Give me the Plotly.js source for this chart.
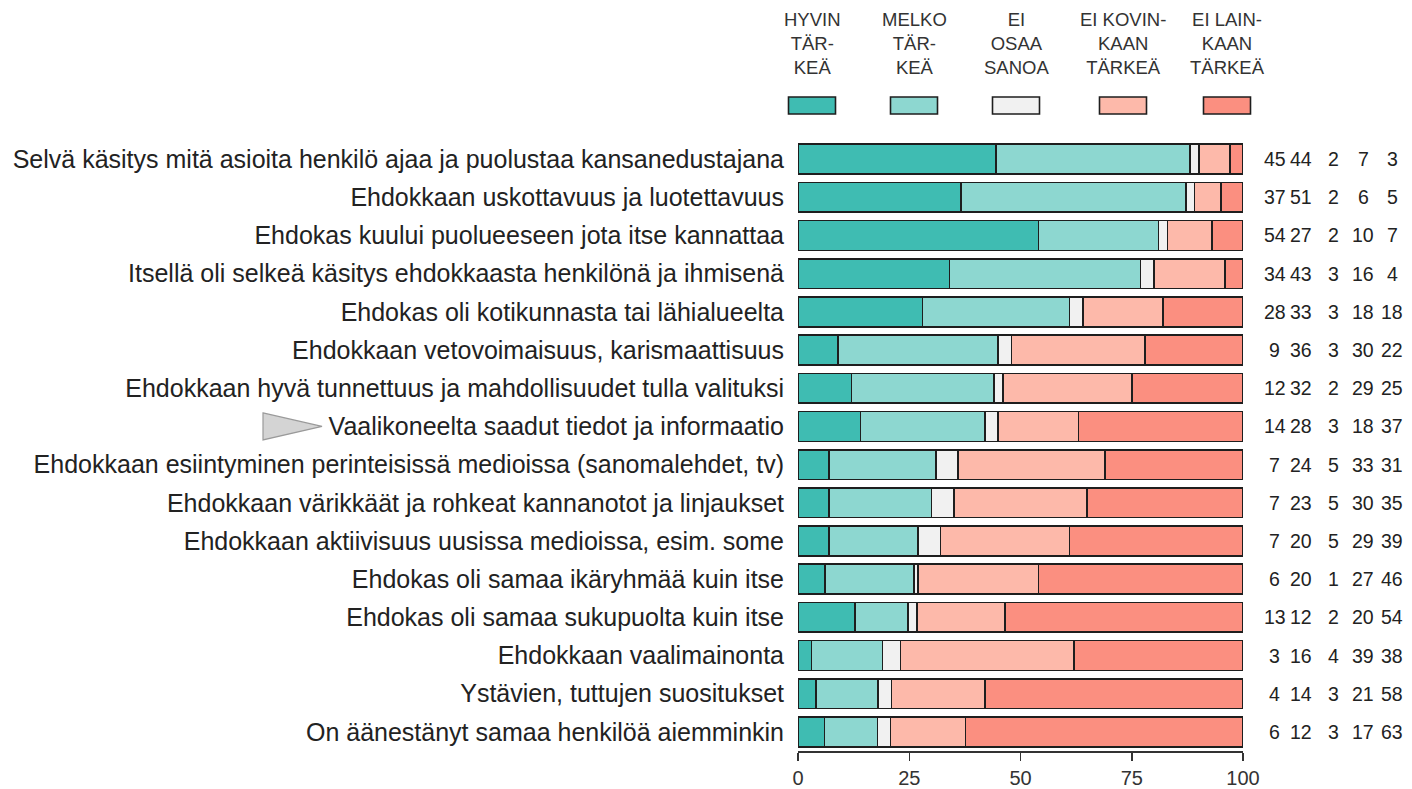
<!DOCTYPE html>
<html>
<head>
<meta charset="utf-8">
<script src="https://cdn.plot.ly/plotly-3.0.1.min.js"></script>
<style>html,body{margin:0;padding:0;background:#fff;}#chart{width:1412px;height:789px;}</style>
</head>
<body>
<div id="chart"></div>
<script>
const categories = [
  "Selvä käsitys mitä asioita henkilö ajaa ja puolustaa kansanedustajana",
  "Ehdokkaan uskottavuus ja luotettavuus",
  "Ehdokas kuului puolueeseen jota itse kannattaa",
  "Itsellä oli selkeä käsitys ehdokkaasta henkilönä ja ihmisenä",
  "Ehdokas oli kotikunnasta tai lähialueelta",
  "Ehdokkaan vetovoimaisuus, karismaattisuus",
  "Ehdokkaan hyvä tunnettuus ja mahdollisuudet tulla valituksi",
  "Vaalikoneelta saadut tiedot ja informaatio",
  "Ehdokkaan esiintyminen perinteisissä medioissa (sanomalehdet, tv)",
  "Ehdokkaan värikkäät ja rohkeat kannanotot ja linjaukset",
  "Ehdokkaan aktiivisuus uusissa medioissa, esim. some",
  "Ehdokas oli samaa ikäryhmää kuin itse",
  "Ehdokas oli samaa sukupuolta kuin itse",
  "Ehdokkaan vaalimainonta",
  "Ystävien, tuttujen suositukset",
  "On äänestänyt samaa henkilöä aiemminkin"
];
const seriesNames = ["HYVIN<br>TÄR-<br>KEÄ","MELKO<br>TÄR-<br>KEÄ","EI<br>OSAA<br>SANOA","EI KOVIN-<br>KAAN<br>TÄRKEÄ","EI LAIN-<br>KAAN<br>TÄRKEÄ"];
const hyvinTarkea   = [45,37,54,34,28, 9,12,14, 7, 7, 7, 6,13, 3, 4, 6];
const melkoTarkea   = [44,51,27,43,33,36,32,28,24,23,20,20,12,16,14,12];
const eiOsaaSanoa   = [ 2, 2, 2, 3, 3, 3, 2, 3, 5, 5, 5, 1, 2, 4, 3, 3];
const eiKovinkaan   = [ 7, 6,10,16,18,30,29,18,33,30,29,27,20,39,21,17];
const eiLainkaan    = [ 3, 5, 7, 4,18,22,25,37,31,35,39,46,54,38,58,63];
const xTicks = [0,25,50,75,100];
const markedCategory = "Vaalikoneelta saadut tiedot ja informaatio";

const series = [hyvinTarkea, melkoTarkea, eiOsaaSanoa, eiKovinkaan, eiLainkaan];
const colors = ["#3fbcb2","#8dd7d0","#f1f1f1","#fdb9aa","#fb8f80"];

// geometry helpers (pixel -> paper)
const W = 1412, H = 789;
const M = {l:798, r:169, t:140, b:38};
const pw = W - M.l - M.r, ph = H - M.t - M.b;
const px = x => (x - M.l) / pw;
const py = y => (H - M.b - y) / ph;

const totals = categories.map((c,i) => series.reduce((s,a)=>s+a[i],0));

const traces = series.map((vals, k) => ({
  type: "bar",
  orientation: "h",
  y: categories,
  x: vals.map((v,i) => v / totals[i] * 100),
  name: seriesNames[k],
  marker: {color: colors[k], line: {color: "#1e1e1e", width: 1.6}},
  cliponaxis: false,
  hoverinfo: "skip",
  showlegend: false
}));

const annotations = [];
const shapes = [];
const FONT = "Liberation Sans, Arial, sans-serif";
// value columns on the right
const colCenters = [1274.5, 1301, 1333, 1363, 1392];
categories.forEach((c, i) => {
  series.forEach((vals, k) => {
    annotations.push({
      xref: "paper", yref: "y", x: px(colCenters[k]), y: c,
      text: String(vals[i]), showarrow: false, xanchor: "center", yanchor: "middle",
      font: {family: FONT, size: 19.5, color: "#222"}
    });
  });
});
// legend
const legCenters = [812, 914, 1016, 1123, 1227];
seriesNames.forEach((n, k) => {
  annotations.push({
    xref: "paper", yref: "paper", x: px(legCenters[k]), y: py(44),
    text: n, showarrow: false, xanchor: "center", yanchor: "middle", align: "center",
    font: {family: FONT, size: 18.5, color: "#333"}
  });
  shapes.push({
    type: "rect", xref: "paper", yref: "paper",
    x0: px(legCenters[k] - 23.5), x1: px(legCenters[k] + 23.5),
    y0: py(114), y1: py(97),
    fillcolor: colors[k], line: {color: "#1e1e1e", width: 1.6}
  });
});
// marker triangle next to the highlighted category
const ri = categories.indexOf(markedCategory);
const rowY = M.t + (ri + 0.5) * ph / categories.length;
shapes.push({
  type: "path", xref: "paper", yref: "paper",
  path: `M ${px(263)} ${py(rowY-13.5)} L ${px(322)} ${py(rowY)} L ${px(263)} ${py(rowY+13.5)} Z`,
  fillcolor: "#d4d4d4", line: {color: "#9a9a9a", width: 1.2}
});

const layout = {
  width: W, height: H,
  margin: M,
  paper_bgcolor: "#fff", plot_bgcolor: "#fff",
  barmode: "stack",
  bargap: 0.22,
  showlegend: false,
  xaxis: {
    range: [0, 100], tickvals: xTicks, ticktext: xTicks.map(String),
    showgrid: false, zeroline: false, showline: true, linecolor: "#333", linewidth: 1.5,
    ticks: "outside", ticklen: 8, tickwidth: 1.5, tickcolor: "#333",
    tickfont: {family: FONT, size: 20, color: "#333"},
    fixedrange: true
  },
  yaxis: {
    type: "category", autorange: "reversed",
    showgrid: false, zeroline: false, showline: false, ticks: "",
    ticklabelstandoff: 13,
    tickfont: {family: FONT, size: 25, color: "#222"},
    fixedrange: true
  },
  annotations: annotations,
  shapes: shapes
};

Plotly.newPlot("chart", traces, layout, {displayModeBar: false, staticPlot: true});
</script>
</body>
</html>
